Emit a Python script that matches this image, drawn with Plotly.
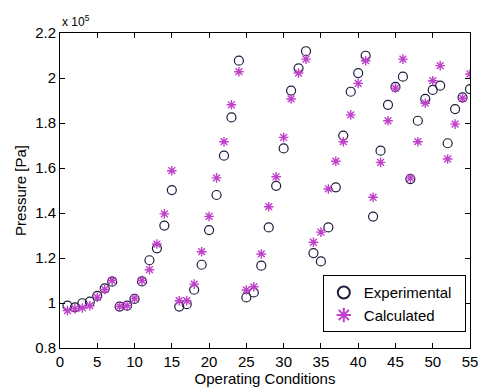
import plotly.graph_objects as go

conditions = list(range(1, 56))

experimental = [
    0.988, 0.981, 0.999, 1.006, 1.032, 1.065, 1.095,
    0.984, 0.988, 1.018, 1.096, 1.19, 1.243, 1.344, 1.502,
    0.984, 0.995, 1.059, 1.17, 1.324, 1.48, 1.655, 1.825, 2.077,
    1.025, 1.047, 1.166, 1.336, 1.521, 1.687, 1.944, 2.043, 2.119,
    1.222, 1.185, 1.336, 1.514, 1.744, 1.939, 2.022, 2.099,
    1.384, 1.677, 1.881, 1.961, 2.006,
    1.551, 1.81, 1.907, 1.947, 1.966,
    1.71, 1.862, 1.914, 1.951,
]

calculated = [
    0.966, 0.975, 0.978, 0.988, 1.025, 1.06, 1.10,
    0.985, 0.988, 1.02, 1.10, 1.148, 1.262, 1.396, 1.588,
    1.01, 1.01, 1.084, 1.228, 1.385, 1.556, 1.717, 1.881, 2.028,
    1.058, 1.072, 1.218, 1.428, 1.561, 1.736, 1.907, 2.022, 2.084,
    1.27, 1.315, 1.507, 1.63, 1.717, 1.836, 1.976, 2.077,
    1.47, 1.625, 1.81, 1.955, 2.084,
    1.555, 1.717, 1.888, 1.988, 2.055,
    1.64, 1.795, 1.91, 2.018,
]

x_ticks = list(range(0, 56, 5))
y_ticks = [0.8, 1.0, 1.2, 1.4, 1.6, 1.8, 2.0, 2.2]
y_tick_labels = ["0.8", "1", "1.2", "1.4", "1.6", "1.8", "2", "2.2"]

font_family = "Liberation Sans, Arial, sans-serif"

fig = go.Figure()
fig.add_trace(go.Scatter(
    x=conditions, y=experimental, mode="markers", name="Experimental\u00a0\u00a0",
    marker=dict(symbol="circle-open", size=9, color="#1c1c3c",
                line=dict(width=1.2, color="#1c1c3c")),
))
fig.add_trace(go.Scatter(
    x=conditions, y=calculated, mode="markers", name="Calculated",
    marker=dict(symbol="asterisk-open", size=8, color="#c040cc",
                line=dict(width=1.4, color="#c040cc")),
))

axis_common = dict(
    showline=True, linecolor="black", linewidth=1, mirror="ticks",
    ticks="inside", ticklen=5, tickcolor="black", tickwidth=1,
    showgrid=False, zeroline=False, ticklabeloverflow="allow",
    tickfont=dict(family=font_family, size=15, color="black"),
)

fig.update_xaxes(
    range=[0, 55], tickvals=x_ticks, **axis_common,
    title=dict(text="Operating Conditions", standoff=0,
               font=dict(family=font_family, size=15, color="black")),
)
fig.update_yaxes(
    range=[0.8, 2.2], tickvals=y_ticks, ticktext=y_tick_labels, **axis_common,
    title=dict(text="Pressure [Pa]", standoff=4,
               font=dict(family=font_family, size=15, color="black")),
)

fig.add_annotation(
    text="x 10<sup>5</sup>", xref="paper", yref="paper", x=0, y=1.0,
    xanchor="left", yanchor="bottom", showarrow=False, yshift=2,
    font=dict(family=font_family, size=12, color="black"),
)

fig.update_layout(
    width=485, height=388,
    margin=dict(l=60, r=7, t=33, b=39),
    paper_bgcolor="white", plot_bgcolor="white",
    font=dict(family=font_family, color="black"),
    legend=dict(
        x=0.641, y=0.05, xanchor="left", yanchor="bottom",
        bordercolor="black", borderwidth=1, bgcolor="white",
        font=dict(family=font_family, size=15, color="black"),
        itemsizing="constant", tracegroupgap=0,
    ),
)

fig.write_html(
    "out.html",
    config={"displayModeBar": False},
    post_script="document.body.style.margin='0';document.body.style.overflow='hidden';",
)
